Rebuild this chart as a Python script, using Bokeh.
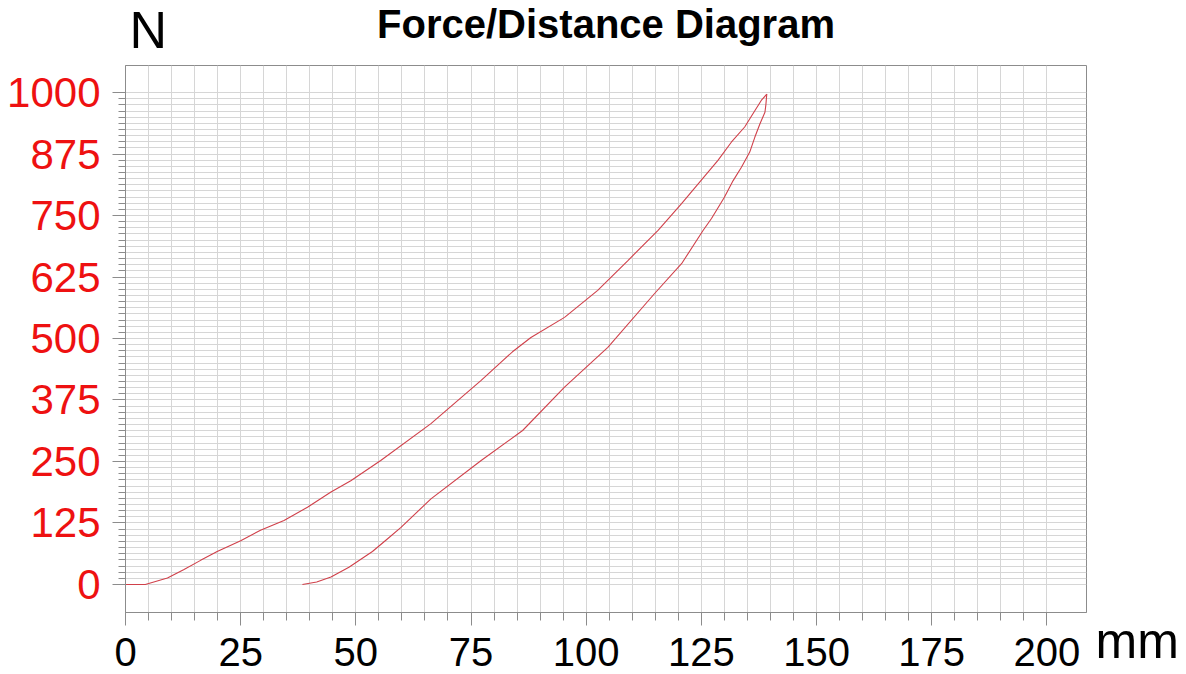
from bokeh.plotting import figure
from bokeh.models import Range1d, FixedTicker, Label
from bokeh.embed import file_html
from bokeh.resources import INLINE

# ---- data ----
load_x = [0, 4.3, 9.1, 12.6, 16.3, 19.9, 25.0, 29.3, 34.4, 39.5, 44.6, 48.9, 55.4,
          66.3, 77.2, 84.0, 88.0, 95.3, 102.5, 109.0, 115.6, 120.7, 128.6, 131.5, 134.4,
          136.6, 138.0, 139.2]
load_y = [0, 0, 13, 30, 49, 67, 89, 110, 130, 157, 188, 211, 252,
          327, 415, 473, 502, 543, 598, 658, 720, 774, 862, 899, 930,
          963, 984, 997]

unload_x = [139.2, 139.0, 138.8, 137.7, 136.6, 135.5, 133.7, 131.9, 130.0, 127.2,
            125.4, 120.7, 114.8, 104.7, 95.3, 86.2, 77.2, 66.3, 59.8, 56.9, 53.6,
            48.5, 44.6, 41.5, 38.4]
unload_y = [997, 975, 960, 936, 909, 879, 848, 821, 787, 744,
            720, 652, 591, 482, 401, 313, 252, 174, 116, 93, 67,
            35, 15, 5, 0]

x_major = [0, 25, 50, 75, 100, 125, 150, 175, 200]
x_minor = [5 * i for i in range(41)]
y_major = [0, 125, 250, 375, 500, 625, 750, 875, 1000]
y_minor = [12.5 * i for i in range(81)]

title_text = "Force/Distance Diagram"
y_unit = "N"
x_unit = "mm"

FONT = "Liberation Sans"
GRAY = "#8c8c8c"
CURVE = "#d0404a"

p = figure(width=1186, height=674,
           x_range=Range1d(0, 208.6), y_range=Range1d(-57, 1055),
           output_backend="svg", toolbar_location=None,
           min_border_left=125, min_border_right=100,
           min_border_top=65, min_border_bottom=62)

p.background_fill_color = "white"
p.border_fill_color = "white"
p.outline_line_color = GRAY
p.outline_line_width = 1

p.title.text = title_text
p.title.align = "center"
p.title.text_font = FONT
p.title.text_font_size = "40px"
p.title.text_font_style = "bold"
p.title.text_color = "black"
p.title.offset = 4
p.title.standoff = -77

# axes
p.xaxis.ticker = FixedTicker(ticks=x_major, minor_ticks=x_minor)
p.yaxis.ticker = FixedTicker(ticks=y_major, minor_ticks=y_minor)
for ax in (p.xaxis[0], p.yaxis[0]):
    ax.axis_line_color = GRAY
    ax.major_tick_line_color = GRAY
    ax.minor_tick_line_color = GRAY
    ax.major_tick_in = 0
    ax.minor_tick_in = 0
    ax.major_label_text_font = FONT

p.xaxis.major_tick_out = 13
p.xaxis.minor_tick_out = 8
p.xaxis.major_label_standoff = 12
p.xaxis.major_label_text_font_size = "40px"
p.xaxis.major_label_text_color = "black"

p.yaxis.major_tick_out = 13
p.yaxis.minor_tick_out = 7
p.yaxis.major_label_standoff = 12
p.yaxis.major_label_text_font_size = "42px"
p.yaxis.major_label_text_color = "#ee1111"

# grid
p.xgrid.ticker = FixedTicker(ticks=x_minor)
p.ygrid.ticker = FixedTicker(ticks=y_minor)
p.xgrid.grid_line_color = "#d6d6d6"
p.ygrid.grid_line_color = "#d6d6d6"
p.xgrid.grid_line_width = 1
p.ygrid.grid_line_width = 1

# curves
p.line(load_x, load_y, line_color=CURVE, line_width=1.1)
p.line(unload_x, unload_y, line_color=CURVE, line_width=1.1)

# unit labels, placed in side panels in canvas pixels
p.add_layout(Label(x=129, y=29, x_units="canvas", y_units="canvas",
                   text=y_unit, text_font=FONT, text_font_size="52px",
                   text_color="black", text_baseline="alphabetic", text_align="left"),
             "above")
p.add_layout(Label(x=1095, y=640, x_units="canvas", y_units="canvas",
                   text=x_unit, text_font=FONT, text_font_size="50px",
                   text_color="black", text_baseline="alphabetic", text_align="left"),
             "right")

open("out.html", "w").write(file_html(p, INLINE))
